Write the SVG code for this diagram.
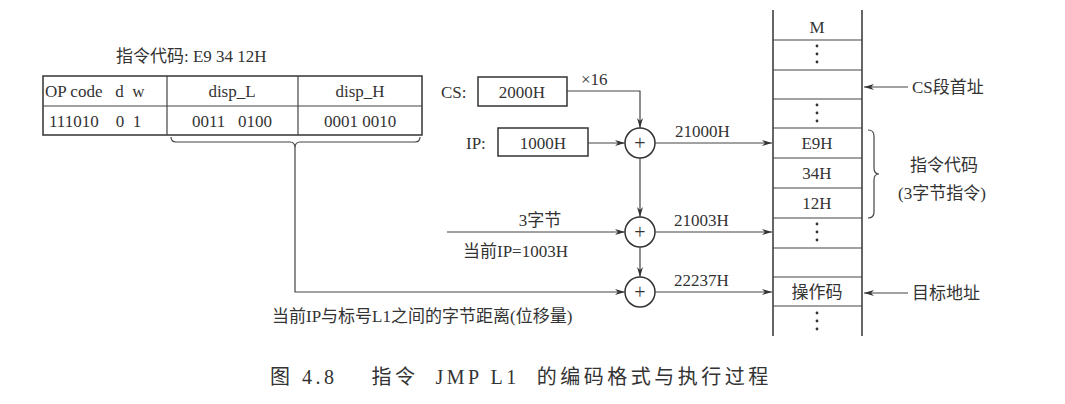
<svg xmlns="http://www.w3.org/2000/svg" width="1065" height="404" viewBox="0 0 1065 404">
<defs>
<marker id="ah" markerWidth="10" markerHeight="6" refX="10" refY="3" orient="auto" markerUnits="userSpaceOnUse"><path d="M0,0 L10,3 L0,6 L3,3 z" fill="#333"/></marker>
<style>
text{font-family:"Liberation Serif","Noto Sans CJK SC",serif;font-size:17px;fill:#333;white-space:pre}
.m{text-anchor:middle}
.p{font-size:20px}
.b{fill:none;stroke:#333;stroke-width:1.5}
.l{fill:none;stroke:#444;stroke-width:1.2}
.a{fill:none;stroke:#444;stroke-width:1.2;marker-end:url(#ah)}
.d{fill:#333}
</style>
</defs>
<rect width="1065" height="404" fill="#fff"/>
<g id="table">
<text x="116" y="62">指令代码: E9 34 12H</text>
<rect class="b" x="43" y="76" width="379" height="59"/>
<line class="l" x1="43" y1="106" x2="422" y2="106"/>
<line class="l" x1="167" y1="76" x2="167" y2="135"/>
<line class="l" x1="298" y1="76" x2="298" y2="135"/>
<text x="45" y="97" xml:space="preserve">OP code   d  w</text>
<text class="m" x="232" y="97">disp_L</text>
<text class="m" x="360" y="97">disp_H</text>
<text x="49" y="127" xml:space="preserve">111010    0  1</text>
<text class="m" x="232" y="127" xml:space="preserve">0011   0100</text>
<text class="m" x="360" y="127">0001 0010</text>
<path class="l" d="M171,137 Q171,142 176,142 L290,142 Q295,142 295,148 Q295,142 300,142 L415,142 Q420,142 420,137"/>
</g>
<g id="cs"><text x="441" y="98">CS:</text><rect class="b" x="478" y="77" width="89" height="29"/><text class="m" x="522" y="98">2000H</text></g>
<g id="ip"><text x="466" y="149">IP:</text><rect class="b" x="498" y="128" width="90" height="28"/><text class="m" x="543" y="149">1000H</text></g>
<g id="add1"><circle class="b" cx="640" cy="143" r="15"/><text class="m p" x="640" y="150">+</text></g>
<g id="add2"><circle class="b" cx="640" cy="232" r="15"/><text class="m p" x="640" y="239">+</text></g>
<g id="add3"><circle class="b" cx="640" cy="292" r="15"/><text class="m p" x="640" y="299">+</text></g>
<g id="memory">
<line class="b" x1="773" y1="10" x2="773" y2="336"/>
<line class="b" x1="862" y1="10" x2="862" y2="336"/>
<g class="l">
<line x1="773" y1="40" x2="862" y2="40"/><line x1="773" y1="70" x2="862" y2="70"/><line x1="773" y1="99" x2="862" y2="99"/><line x1="773" y1="128" x2="862" y2="128"/><line x1="773" y1="158" x2="862" y2="158"/><line x1="773" y1="188" x2="862" y2="188"/><line x1="773" y1="218" x2="862" y2="218"/><line x1="773" y1="248" x2="862" y2="248"/><line x1="773" y1="277" x2="862" y2="277"/><line x1="773" y1="306" x2="862" y2="306"/>
</g>
<text class="m" x="817" y="33">M</text>
<g class="d"><circle cx="817" cy="46" r="1.4"/><circle cx="817" cy="54" r="1.4"/><circle cx="817" cy="62" r="1.4"/>
<circle cx="817" cy="105" r="1.4"/><circle cx="817" cy="113" r="1.4"/><circle cx="817" cy="121" r="1.4"/>
<circle cx="817" cy="224" r="1.4"/><circle cx="817" cy="232" r="1.4"/><circle cx="817" cy="240" r="1.4"/>
<circle cx="817" cy="313" r="1.4"/><circle cx="817" cy="321" r="1.4"/><circle cx="817" cy="329" r="1.4"/></g>
<text class="m" x="817" y="149">E9H</text>
<text class="m" x="817" y="179">34H</text>
<text class="m" x="817" y="209">12H</text>
<text class="m" x="817" y="298">操作码</text>
<path class="l" d="M868,130 Q874,130 874,136 L874,168 Q874,174 879,174 Q874,174 874,180 L874,212 Q874,218 868,218"/>
<text class="m" x="944" y="171">指令代码</text>
<text class="m" x="942" y="199">(3字节指令)</text>
<text x="912" y="93">CS段首址</text>
<text x="912" y="299">目标地址</text>
</g>
<g id="connectors">
<path class="a" d="M567,91 L640,91 L640,128"/>
<text x="581" y="85">×16</text>
<line class="a" x1="588" y1="143" x2="625" y2="143"/>
<line class="a" x1="655" y1="143" x2="772" y2="143"/>
<text x="675" y="137">21000H</text>
<line class="a" x1="640" y1="158" x2="640" y2="217"/>
<line class="a" x1="447" y1="232" x2="625" y2="232"/>
<text class="m" x="540" y="226">3字节</text>
<text x="463" y="257">当前IP=1003H</text>
<line class="a" x1="655" y1="232" x2="772" y2="232"/>
<text x="674" y="226">21003H</text>
<line class="a" x1="640" y1="247" x2="640" y2="277"/>
<path class="a" d="M295,148 L295,292 L625,292"/>
<text x="272" y="322">当前IP与标号L1之间的字节距离(位移量)</text>
<line class="a" x1="655" y1="292" x2="772" y2="292"/>
<text x="674" y="286">22237H</text>
<line class="a" x1="908" y1="87" x2="864" y2="87"/>
<line class="a" x1="908" y1="293" x2="864" y2="293"/>
</g>
<text x="270" y="384" xml:space="preserve" style="font-size:20px;letter-spacing:3.5px">图 4.8    指令  JMP L1  的编码格式与执行过程</text>
</svg>
